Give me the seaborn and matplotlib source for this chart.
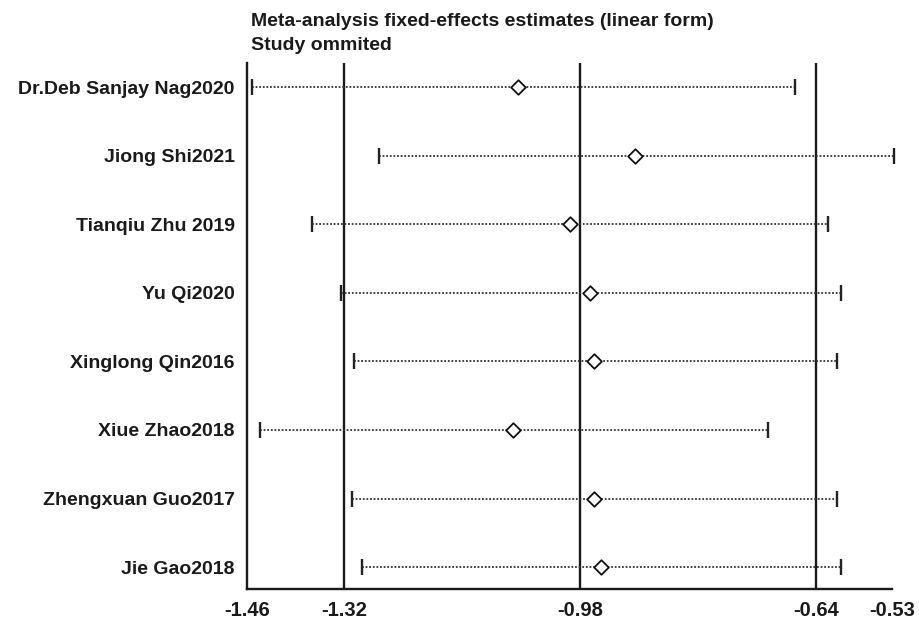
import numpy as np
import pandas as pd
import matplotlib
matplotlib.use("Agg")
import matplotlib.pyplot as plt
import seaborn as sns

# ---------------- data ----------------
studies = ["Dr.Deb Sanjay Nag2020", "Jiong Shi2021", "Tianqiu Zhu 2019", "Yu Qi2020",
           "Xinglong Qin2016", "Xiue Zhao2018", "Zhengxuan Guo2017", "Jie Gao2018"]
estimate = [-1.069, -0.901, -0.994, -0.966, -0.959, -1.076, -0.959, -0.950]
lower_ci = [-1.453, -1.269, -1.366, -1.325, -1.306, -1.442, -1.309, -1.294]
upper_ci = [-0.670, -0.527, -0.622, -0.603, -0.609, -0.709, -0.609, -0.603]

overall = [-1.32, -0.98, -0.64]          # lower CI, estimate, upper CI (vertical lines)
xticks = [-1.46, -1.32, -0.98, -0.64, -0.53]
xticklabels = ["-1.46", "-1.32", "-0.98", "-0.64", "-0.53"]

df = pd.DataFrame({"study": studies, "est": estimate, "lo": lower_ci, "hi": upper_ci})
df["pos"] = np.arange(len(df))

# ---------------- style ----------------
sns.set_style("white")
plt.rcParams["font.family"] = ["Liberation Sans", "DejaVu Sans"]
ink = "#1a1a1a"

fig = plt.figure(figsize=(9.19, 6.2), dpi=100)
ax = fig.add_axes([0.2688, 0.05, 0.7018, 0.848])

# overall estimate and its CI
for v in overall:
    ax.axvline(v, color=ink, lw=1.7, zorder=1)

# study-omitted CIs
ax.hlines(df["pos"], df["lo"], df["hi"], colors="#333333", lw=1.3,
          linestyles=(0, (1, 1)), zorder=2, clip_on=False)
ax.scatter(df["lo"], df["pos"], marker="|", s=130, color="#222222", lw=1.7,
           zorder=3, clip_on=False)
ax.scatter(df["hi"], df["pos"], marker="|", s=130, color="#222222", lw=1.7,
           zorder=3, clip_on=False)
sns.scatterplot(data=df, x="est", y="pos", ax=ax, marker="D", s=55,
                facecolor="white", edgecolor="#111111", linewidth=1.3, zorder=4,
                legend=False)

ax.set_xlim(-1.46, -0.53)
ax.set_ylim(len(df) - 1 + 0.32, -0.35)
ax.set_xticks(xticks)
ax.set_xticklabels(xticklabels, fontsize=14.5, fontweight="bold", color=ink)
ax.set_yticks(df["pos"])
ax.set_yticklabels(df["study"], fontsize=14, fontweight="bold", color=ink)
ax.tick_params(axis="x", direction="out", length=8, width=1.7, color=ink, pad=1)
ax.tick_params(axis="y", length=0, pad=9)
ax.set_xlabel("")
ax.set_ylabel("")

for side in ["top", "right"]:
    ax.spines[side].set_visible(False)
for side in ["left", "bottom"]:
    ax.spines[side].set_color(ink)
    ax.spines[side].set_linewidth(1.7)

fig.text(0.2735, 0.958, "Meta-analysis fixed-effects estimates (linear form)",
         fontsize=14, fontweight="bold", color=ink, va="baseline", ha="left")
fig.text(0.2735, 0.920, "Study ommited",
         fontsize=14, fontweight="bold", color=ink, va="baseline", ha="left")

fig.savefig("out.png", dpi=100)
